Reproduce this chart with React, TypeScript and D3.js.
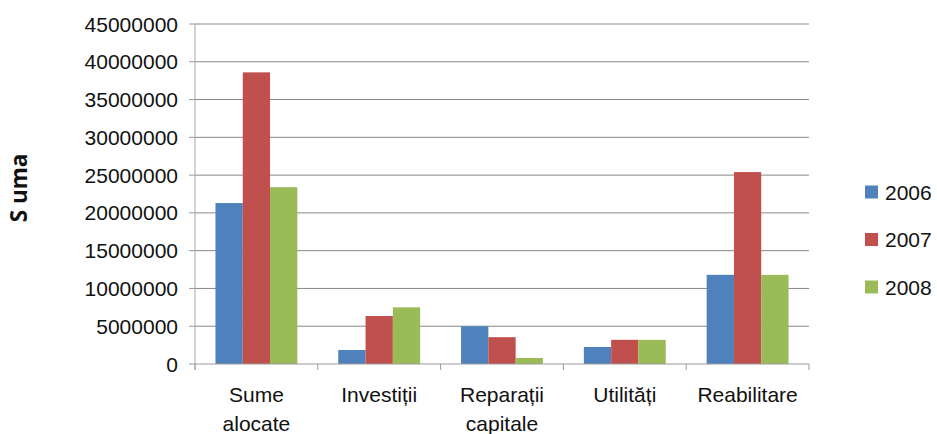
import { useMemo } from "react";
import * as d3 from "d3";

const categories = [["Sume", "alocate"], ["Investiții"], ["Reparații", "capitale"], ["Utilități"], ["Reabilitare"]];
const years = ["2006", "2007", "2008"];
const v2006 = [21300000, 1850000, 5000000, 2250000, 11800000];
const v2007 = [38600000, 6350000, 3550000, 3200000, 25400000];
const v2008 = [23400000, 7500000, 800000, 3200000, 11800000];
const yTicks = [0, 5000000, 10000000, 15000000, 20000000, 25000000, 30000000, 35000000, 40000000, 45000000];
const colors = ["#4F81BD", "#C0504D", "#9BBB59"];

const W = 937;
const H = 434;
const M = { left: 195, right: 128, top: 24, bottom: 70 };
const FONT = "'Liberation Sans', Arial, sans-serif";
const FS = 21;

export default function App() {
  const series = [v2006, v2007, v2008];
  const x = useMemo(
    () => d3.scaleBand<number>().domain(d3.range(categories.length)).range([M.left, W - M.right]),
    []
  );
  const y = useMemo(() => d3.scaleLinear().domain([0, 45000000]).range([H - M.bottom, M.top]), []);
  const bw = x.bandwidth() / 4.5;
  const xs = d3.scaleBand<number>().domain([0, 1, 2]).range([bw * 0.75, bw * 3.75]);

  return (
    <svg width={W} height={H} style={{ position: "absolute", left: 0, top: 0, background: "#fff" }}>
      {/* gridlines + y ticks */}
      {yTicks.map((t) => (
        <g key={t}>
          {t > 0 && (
            <line x1={M.left} x2={W - M.right} y1={y(t)} y2={y(t)} stroke="#878787" strokeWidth={1} />
          )}
          <line x1={M.left - 6} x2={M.left} y1={y(t)} y2={y(t)} stroke="#9a9a9a" />
          <text x={M.left - 17} y={y(t)} dy="0.36em" textAnchor="end" fontFamily={FONT} fontSize={FS} fill="#111">
            {t}
          </text>
        </g>
      ))}
      {/* bars */}
      {categories.map((c, i) =>
        series.map((s, j) => (
          <rect
            key={`${i}-${j}`}
            x={(x(i) ?? 0) + (xs(j) ?? 0)}
            y={y(s[i])}
            width={xs.bandwidth()}
            height={y(0) - y(s[i])}
            fill={colors[j]}
          />
        ))
      )}
      {/* axes */}
      <line x1={M.left} x2={M.left} y1={M.top} y2={y(0) + 6} stroke="#a6a6a6" />
      <line x1={M.left} x2={W - M.right} y1={y(0)} y2={y(0)} stroke="#9a9a9a" />
      {d3.range(categories.length + 1).map((i) => {
        const px = i < categories.length ? x(i) ?? 0 : W - M.right;
        return <line key={i} x1={px} x2={px} y1={y(0)} y2={y(0) + 6} stroke="#9a9a9a" />;
      })}
      {categories.map((c, i) => (
        <text key={i} textAnchor="middle" fontFamily={FONT} fontSize={FS} fill="#111">
          {c.map((line, k) => (
            <tspan key={k} x={(x(i) ?? 0) + x.bandwidth() / 2} y={402 + k * 29}>
              {line}
            </tspan>
          ))}
        </text>
      ))}
      {/* y title */}
      <text
        transform={`translate(27,188) rotate(-90)`}
        textAnchor="middle"
        fontFamily="'Open Sans', sans-serif"
        fontWeight="bold"
        fontSize={22.5}
        fill="#111"
      >
        S uma
      </text>
      {/* legend */}
      {years.map((yr, j) => (
        <g key={yr} transform={`translate(865,${192 + j * 47.5})`}>
          <rect x={0} y={-6.5} width={13} height={13} fill={colors[j]} />
          <text x={20} y={0} dy="0.36em" fontFamily={FONT} fontSize={FS} fill="#111">
            {yr}
          </text>
        </g>
      ))}
    </svg>
  );
}
